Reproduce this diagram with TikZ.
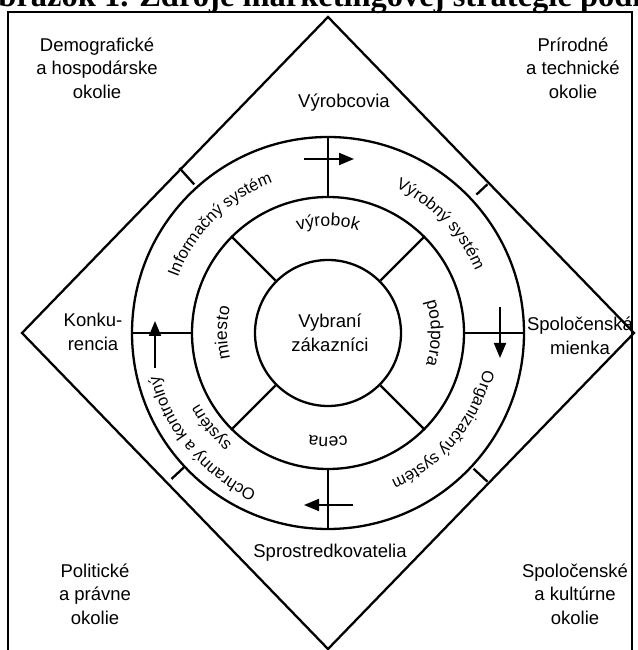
\documentclass[tikz,border=0pt]{standalone}
\usepackage{fontspec}
\setmainfont{Liberation Sans}
\newfontfamily\titlefont{Liberation Serif}
\usetikzlibrary{arrows.meta,decorations.text}
\newcommand\ringfnt{\fontsize{16.5}{16.5}\selectfont}
\newcommand\midfnt{\fontsize{17.5}{17.5}\selectfont}
\begin{document}
\begin{tikzpicture}[x=1pt,y=1pt,
  ln/.style={line width=2.3pt},
  lbl/.style={font=\fontsize{18.5}{23.5}\selectfont, align=center, inner sep=0pt},
  arr/.style={line width=2pt, -{Triangle[length=15pt,width=12pt]}},
  ring/.style={circle, draw, line width=2.3pt, inner sep=0pt, minimum size=#1}
]
\useasboundingbox (0,0) rectangle (637,650);
\clip (0,0) rectangle (637,650);
\coordinate (C) at (328,317);
% title (cut at the top)
\node[anchor=base west, inner sep=0pt, font=\titlefont\bfseries\fontsize{32.5}{32.5}\selectfont] (title) at (-27,643) {Obrázok 1. Zdroje marketingovej stratégie podniku};
% frame
\draw[line width=2pt] (8,-5) rectangle (632,638);
% diamond
\coordinate (dT) at (328,633);
\coordinate (dR) at (634,317);
\coordinate (dB) at (328,1);
\coordinate (dL) at (22,317);
\draw[ln, line join=miter] (dT) -- (dR) -- (dB) -- (dL) -- cycle;
% circles
\node[ring=392pt] (outer) at (C) {};
\node[ring=272pt] (mid) at (C) {};
\node[ring=146pt] (inner) at (C) {};
% dividers outer ring
\draw[ln] (mid.north) -- (outer.north);
\draw[ln] (mid.south) -- (outer.south);
\draw[ln] (mid.west) -- (outer.west);
\draw[ln] (mid.east) -- (outer.east);
% dividers middle ring
\draw[ln] (inner.45) -- (mid.45);
\draw[ln] (inner.135) -- (mid.135);
\draw[ln] (inner.225) -- (mid.225);
\draw[ln] (inner.315) -- (mid.315);
% ticks between circle and diamond
\draw[ln] ([shift={(132:222)}]C) -- ([shift={(132:200)}]C);
\draw[ln] ([shift={(43:203)}]C) -- ([shift={(43:218)}]C);
\draw[ln] ([shift={(223:214)}]C) -- ([shift={(223:197)}]C);
\draw[ln] ([shift={(-43:199)}]C) -- ([shift={(-43:218)}]C);
% arrows
\coordinate (a1s) at (304,491); \coordinate (a1e) at (354,491);
\coordinate (a2s) at (500,343); \coordinate (a2e) at (500,292);
\coordinate (a3s) at (353,145); \coordinate (a3e) at (304,145);
\coordinate (a4s) at (155,282); \coordinate (a4e) at (155,329);
\draw[arr] (a1s) -- (a1e);
\draw[arr] (a2s) -- (a2e);
\draw[arr] (a3s) -- (a3e);
\draw[arr] (a4s) -- (a4e);
% outer labels
\node[lbl] (demo) at (97,582) {Demografické\\a hospodárske\\okolie};
\node[lbl] (prir) at (573,582) {Prírodné\\a technické\\okolie};
\node[lbl] (pol) at (95,56) {Politické\\a právne\\okolie};
\node[lbl] (spk) at (575,56) {Spoločenské\\a kultúrne\\okolie};
\node[lbl] (vyr) at (344,547) {Výrobcovia};
\node[lbl] (kon) at (93,318) {Konku-\\rencia};
\node[lbl] (spm) at (580,314) {Spoločenská\\mienka};
\node[lbl] (spr) at (330,97) {Sprostredkovatelia};
\node[lbl] (zak) at (330,317) {Vybraní\\zákazníci};
% middle ring texts
\path[decorate, decoration={text along path, text align=center, text={|\midfnt|výrobok}}]
  ([shift={(130:107)}]C) arc[start angle=130, end angle=50, radius=107];
\path[decorate, decoration={text along path, text align=center, text={|\midfnt|podpora}}]
  ([shift={(40:103)}]C) arc[start angle=40, end angle=-40, radius=103];
\path[decorate, decoration={text along path, text align=center, text={|\midfnt|cena}}]
  ([shift={(310:104)}]C) arc[start angle=310, end angle=230, radius=104];
\path[decorate, decoration={text along path, text align=center, text={|\midfnt|miesto}}]
  ([shift={(220:101)}]C) arc[start angle=220, end angle=140, radius=101];
% outer ring texts
\path[decorate, decoration={text along path, text align=center, text={|\ringfnt|Informačný systém}}]
  ([shift={(180:160)}]C) arc[start angle=180, end angle=90, radius=160];
\path[decorate, decoration={text along path, text align=center, text={|\ringfnt|Výrobný systém}}]
  ([shift={(89:160)}]C) arc[start angle=89, end angle=-1, radius=160];
\path[decorate, decoration={text along path, text align=center, text={|\ringfnt|Organizačný systém}}]
  ([shift={(5:160)}]C) arc[start angle=5, end angle=-85, radius=160];
\path[decorate, decoration={text along path, text align=center, text={|\ringfnt|Ochranný a kontrolný}}]
  ([shift={(265:174)}]C) arc[start angle=265, end angle=175, radius=174];
\path[decorate, decoration={text along path, text align=center, text={|\ringfnt|systém}}]
  ([shift={(249:147)}]C) arc[start angle=249, end angle=189, radius=147];
\end{tikzpicture}
\end{document}
